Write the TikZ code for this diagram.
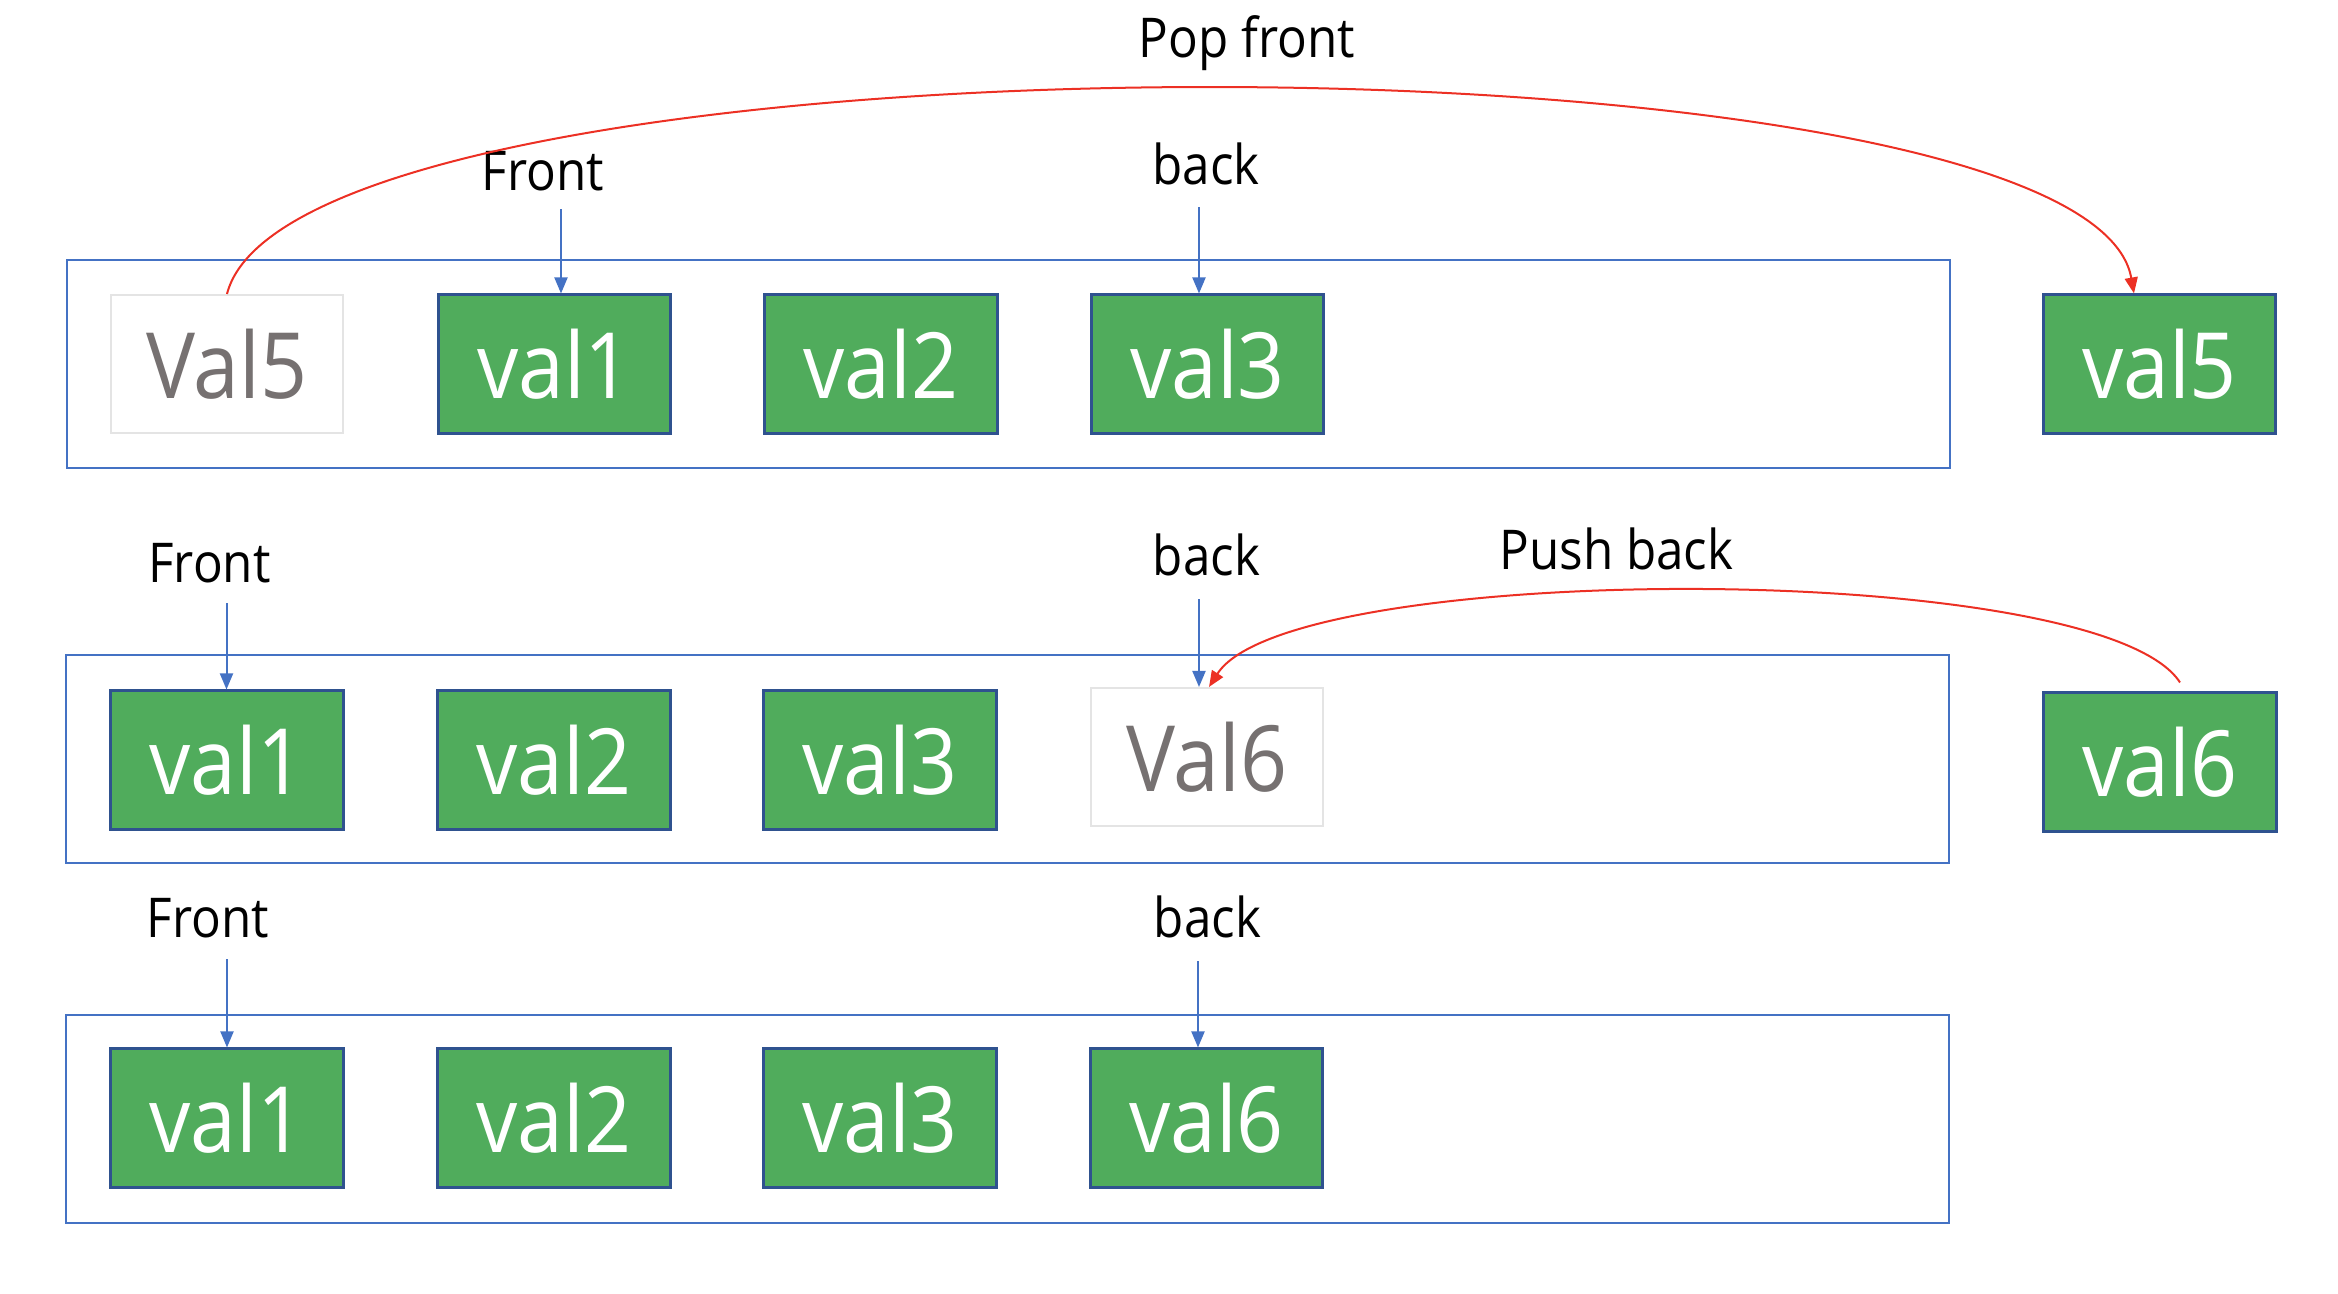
\documentclass[tikz,border=0pt]{standalone}
\usepackage{fontspec}
\setmainfont{Open Sans}[FakeStretch=0.9]
\usetikzlibrary{arrows.meta}

\definecolor{boxgreen}{RGB}{80,172,92}
\definecolor{boxedge}{RGB}{47,82,143}
\definecolor{queueblue}{RGB}{68,114,196}
\definecolor{moved}{RGB}{236,48,36}
\definecolor{ghosttext}{RGB}{118,113,113}
\definecolor{ghostedge}{RGB}{228,228,228}

\tikzset{
  val/.style={draw=boxedge, line width=0.3mm, fill=boxgreen, text=white,
    minimum width=2.32cm, minimum height=1.38cm, inner sep=0pt,
    font=\fontsize{26}{26}\selectfont},
  ghost/.style={val, draw=ghostedge, line width=0.2mm, fill=white, text=ghosttext},
  qframe/.style={draw=queueblue, line width=0.25mm, minimum width=18.82cm,
    minimum height=2.08cm, inner sep=0pt},
  lbl/.style={anchor=base, font=\fontsize{15.6}{15.6}\selectfont},
  ptr/.style={draw=queueblue, line width=0.2mm, -{Triangle[width=1.3mm,length=1.6mm]}},
  move/.style={draw=moved, line width=0.2mm, -{Triangle[width=1.3mm,length=1.6mm]}},
}

\begin{document}
\begin{tikzpicture}[x=0.01cm, y=-0.01cm]
	\useasboundingbox (0,0) rectangle (2338,1293);

	% queue frames
	\node[qframe] (q1) at (1008.5,364) {};
	\node[qframe] (q2) at (1007.5,759) {};
	\node[qframe] (q3) at (1007.5,1119) {};

	% pop front
	\node[ghost] (a0) at (227,364) {Val5};
	\foreach \i/\x in {1/554.5, 2/881, 3/1207.5}
		\node[val] (a\i) at (\x,364) {val\i};
	\node[val] (e5) at (2159.5,364) {val5};

	\node[lbl] (pop) at (1247,57) {Pop front};
	\node[lbl] (fr1) at (543,190) {Front};
	\node[lbl] (bk1) at (1206,184) {back};

	\coordinate (f1) at (561,209);
	\coordinate (k1) at (1199,207);
	\draw[ptr] (f1) -- (f1 |- a1.north);
	\draw[ptr] (k1) -- (k1 |- a3.north);

	\draw[move] (a0.north) .. controls +(70,-273) and +(-48,-273) .. ([xshift=-0.255cm]e5.north);

	% push back
	\foreach \i/\x in {1/227, 2/554, 3/880}
		\node[val] (b\i) at (\x,760) {val\i};
	\node[ghost] (b4) at (1207,757) {Val6};
	\node[val] (e6) at (2160,762) {val6};

	\node[lbl] (fr2) at (209.5,582) {Front};
	\node[lbl] (bk2) at (1206.5,575) {back};
	\node[lbl] (push) at (1616.5,569) {Push back};

	\coordinate (f2) at (226.5,603);
	\coordinate (k2) at (1199,599);
	\draw[ptr] (f2) -- (f2 |- b1.north);
	\draw[ptr] (k2) -- (k2 |- b4.north);

	\draw[move] ([xshift=0.2cm, yshift=0.09cm]e6.north) .. controls +(-80,-124) and +(81,-127) .. ([xshift=0.02cm]b4.north);

	% result
	\foreach \i/\x/\t in {1/227/1, 2/554/2, 3/880/3, 4/1206.5/6}
		\node[val] (c\i) at (\x,1118) {val\t};

	\node[lbl] (fr3) at (208,937) {Front};
	\node[lbl] (bk3) at (1207.5,937) {back};

	\coordinate (f3) at (227,959);
	\coordinate (k3) at (1198,961);
	\draw[ptr] (f3) -- (f3 |- c1.north);
	\draw[ptr] (k3) -- (k3 |- c4.north);
\end{tikzpicture}
\end{document}
